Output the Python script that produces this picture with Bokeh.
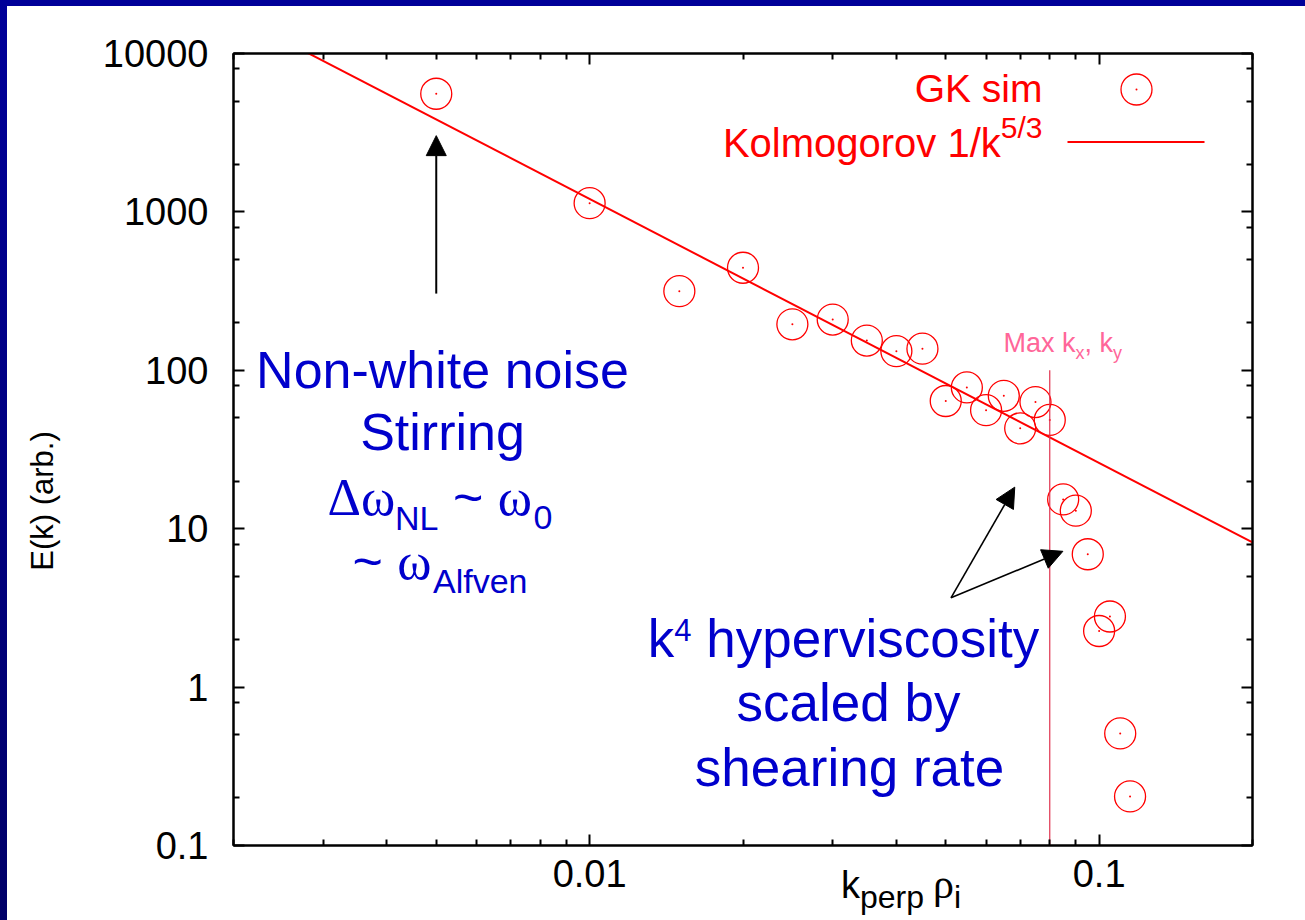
import math
from bokeh.plotting import figure
from bokeh.models import (Label, Arrow, NormalHead, LogAxis, FixedTicker,
                          CustomJSTickFormatter, Range1d, GridBox, Div)
from bokeh.embed import file_html
from bokeh.resources import INLINE

# ---------------- data ----------------
k_perp = [0.005, 0.01, 0.015, 0.02, 0.025, 0.03, 0.035, 0.04, 0.045, 0.05, 0.055, 0.06,
          0.065, 0.07, 0.075, 0.08, 0.085, 0.09, 0.095, 0.1, 0.105, 0.11, 0.115]
E_gk = [5570, 1135, 316, 444, 195, 209, 154, 132, 137, 64, 78, 56,
        69, 43, 63, 48.6, 15.3, 13.0, 6.9, 2.26, 2.79, 0.51, 0.204]
kolmo_k = [0.002, 0.2]          # Kolmogorov 1/k^(5/3) reference line ends
kolmo_E = [17640, 8.19]
max_k = 0.08                    # Max kx, ky marker
max_E = [0.1, 100]
x_major = [0.01, 0.1]
y_major = [0.1, 1, 10, 100, 1000, 10000]
x_minor = [m * 10.0 ** e for e in (-3, -2) for m in range(2, 10)] + [0.2]
y_minor = [m * 10.0 ** e for e in range(-1, 4) for m in (2, 5, 8)]

W, H = 1305, 920
# ---------------- layout helpers (screen px -> data) ----------------
FX0, FX1, FY0, FY1 = 233, 1252, 53, 845
LX0, LX1 = math.log10(0.002), math.log10(0.2)


def X(sx):
    return 10 ** (LX0 + (sx - FX0) / (FX1 - FX0) * (LX1 - LX0))


def Y(sy):
    return 10 ** (4 - (sy - FY0) / (FY1 - FY0) * 5)


SANS = "Liberation Sans"
SERIF = "Liberation Serif"
ARIAL = {' ': 278, '(': 333, ')': 333, ',': 278, '-': 333, '.': 278, '/': 278, '~': 584,
         'A': 667, 'E': 667, 'G': 778, 'K': 667, 'L': 556, 'M': 833, 'N': 722, 'S': 667,
         'a': 556, 'b': 556, 'c': 500, 'd': 556, 'e': 556, 'f': 278, 'g': 556, 'h': 556,
         'i': 222, 'k': 500, 'l': 222, 'm': 833, 'n': 556, 'o': 556, 'p': 556, 'r': 333,
         's': 500, 't': 278, 'v': 500, 'w': 722, 'x': 500, 'y': 500}
TIMES = {' ': 250, 'Δ': 612, 'ω': 686, 'ρ': 500}
BASE_FIX = 0.37   # Label 'alphabetic' baseline lands ~0.37em low; compensate


def tw(t, font, size):
    table = TIMES if font == SERIF else ARIAL
    return sum(table.get(c, 556) for c in t) * size / 1000.0


# ---------------- backdrop: slide frame + axis titles (HTML, under the plot) ----------------
xt_top = 895 - 32
backdrop_html = f"""
<div style="position:relative;width:{W}px;height:{H}px;margin:0;padding:0;background:#ffffff;overflow:hidden;">
  <div style="position:absolute;left:0;top:0;width:{W}px;height:6px;background:#000099;"></div>
  <div style="position:absolute;left:0;top:0;width:7px;height:{H}px;
              background:linear-gradient(to bottom,#000099,#000068);"></div>
  <div style="position:absolute;left:841px;top:{xt_top}px;font-family:'{SANS}';font-size:38px;
              line-height:1;white-space:nowrap;color:#000000;">k<span
       style="font-size:32px;position:relative;top:10px;">perp</span><span
       style="font-size:32px;"> </span><span style="font-family:'{SERIF}';font-size:42px;">ρ</span><span
       style="font-size:32px;position:relative;top:10px;">i</span></div>
  <div style="position:absolute;left:42px;top:501px;font-family:'{SANS}';font-size:31px;
              line-height:1;white-space:nowrap;color:#000000;
              transform:translate(-50%,-50%) rotate(-90deg);">E(k) (arb.)</div>
</div>
"""
bg = Div(text=backdrop_html, width=W, height=H, margin=0)

# ---------------- main plot ----------------
p = figure(width=W, height=H, x_axis_type="log", y_axis_type="log",
           x_range=Range1d(0.002, 0.2), y_range=Range1d(0.1, 10000),
           output_backend="svg", toolbar_location=None,
           min_border_left=FX0, min_border_right=W - FX1,
           min_border_top=FY0, min_border_bottom=H - FY1)
p.grid.visible = False
p.border_fill_color = None
p.background_fill_color = None
p.outline_line_color = "black"
p.outline_line_width = 2


def style_axis(ax, labels=True):
    ax.axis_line_width = 2
    ax.axis_line_color = "black"
    ax.major_tick_in = 11
    ax.major_tick_out = 0
    ax.minor_tick_in = 6
    ax.minor_tick_out = 0
    ax.major_tick_line_width = 2
    ax.minor_tick_line_width = 2
    ax.major_label_text_font = SANS
    ax.major_label_text_font_size = "38px"
    ax.major_label_text_color = "black"
    if labels:
        ax.formatter = CustomJSTickFormatter(code="return tick.toString();")
    else:
        ax.formatter = CustomJSTickFormatter(code="return '';")
        ax.major_label_standoff = 0


p.xaxis[0].ticker = FixedTicker(ticks=x_major, minor_ticks=x_minor)
p.yaxis[0].ticker = FixedTicker(ticks=y_major, minor_ticks=y_minor)
style_axis(p.xaxis[0])
style_axis(p.yaxis[0])
p.xaxis[0].major_label_standoff = 14
p.yaxis[0].major_label_standoff = 25

top_ax = LogAxis(ticker=FixedTicker(ticks=x_major, minor_ticks=x_minor))
style_axis(top_ax, labels=False)
p.add_layout(top_ax, "above")
right_ax = LogAxis(ticker=FixedTicker(ticks=y_major, minor_ticks=y_minor))
style_axis(right_ax, labels=False)
p.add_layout(right_ax, "right")

# data marks
p.scatter(k_perp, E_gk, marker="circle", size=31, fill_color=None,
          line_color="red", line_width=1.3)
p.scatter(k_perp, E_gk, marker="circle", size=2, fill_color="red", line_color=None)
p.line(kolmo_k, kolmo_E, line_color="red", line_width=2)
p.segment(x0=[max_k], y0=[max_E[0]], x1=[max_k], y1=[max_E[1]],
          line_color="#e0334f", line_width=1.2)

# legend samples (gnuplot style: label left, sample right)
p.scatter([X(1136)], [Y(89)], marker="circle", size=31, fill_color=None,
          line_color="red", line_width=1.3)
p.scatter([X(1136)], [Y(89)], marker="circle", size=2, fill_color="red", line_color=None)
p.line([X(1067), X(1204)], [Y(141.5), Y(141.5)], line_color="red", line_width=2)


# ---------------- text runs inside the plot box ----------------
def run(pieces, sx, sy, align="left", color="black"):
    total = sum(tw(t, f, s) for t, f, s, d in pieces)
    if align == "center":
        sx -= total / 2.0
    elif align == "right":
        sx -= total
    for t, f, s, d in pieces:
        lead = len(t) - len(t.lstrip())
        x0 = sx + tw(" " * lead, f, s)
        txt = t.strip()
        if txt:
            lab = Label(x=X(x0), y=Y(sy + d - BASE_FIX * s), text=txt)
            lab.text_font = f
            lab.text_font_size = f"{s}px"
            lab.text_color = color
            lab.text_align = "left"
            lab.text_baseline = "alphabetic"
            p.add_layout(lab)
        sx += tw(t, f, s)


BLUE = "#0000cc"
run([("Non-white noise", SANS, 52, 0)], 442, 389, "center", BLUE)
run([("Stirring", SANS, 52, 0)], 442, 451, "center", BLUE)
run([("Δω", SERIF, 52, 0), ("NL", SANS, 34, 14), (" ~ ", SANS, 52, 0),
     ("ω", SERIF, 52, 0), ("0", SANS, 34, 14)], 327, 516, "left", BLUE)
run([("~ ", SANS, 52, 0), ("ω", SERIF, 52, 0), ("Alfven", SANS, 34, 13)], 352, 580, "left", BLUE)

run([("k", SANS, 53, 0), ("4", SANS, 31, -17), (" hyperviscosity", SANS, 53, 0)],
    843, 658, "center", BLUE)
run([("scaled by", SANS, 53, 0)], 848, 722, "center", BLUE)
run([("shearing rate", SANS, 53, 0)], 849, 787, "center", BLUE)

PINK = "#ff6699"
run([("Max k", SANS, 27, 0), ("x", SANS, 18, 7), (", k", SANS, 27, 0), ("y", SANS, 18, 7)],
    1003, 352, "left", PINK)

run([("GK sim", SANS, 39, 0)], 1042, 102, "right", "red")
run([("Kolmogorov 1/k", SANS, 40, 0), ("5/3", SANS, 30, -19)], 1042, 157, "right", "red")

# ---------------- arrows ----------------
head = dict(size=20, fill_color="black", line_color="black", line_width=1)
p.add_layout(Arrow(end=NormalHead(**head), x_start=0.005, y_start=305, x_end=0.005, y_end=3030,
                   line_width=2, line_color="black"))
p.add_layout(Arrow(end=NormalHead(**head), x_start=0.0512, y_start=3.66, x_end=0.0683, y_end=18.3,
                   line_width=1.6, line_color="black"))
p.add_layout(Arrow(end=NormalHead(**head), x_start=0.0512, y_start=3.66, x_end=0.0849, y_end=7.2,
                   line_width=1.6, line_color="black"))

layout = GridBox(children=[(bg, 0, 0), (p, 0, 0)], width=W, height=H)
open("out.html", "w").write(file_html(layout, INLINE))
